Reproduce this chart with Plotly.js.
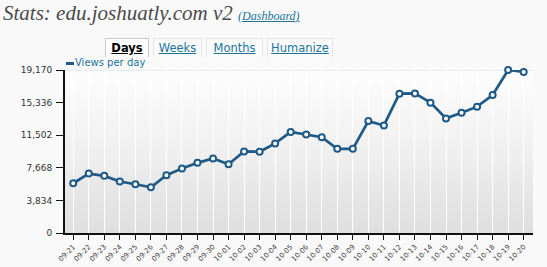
<!DOCTYPE html>
<html>
<head>
<meta charset="utf-8">
<script src="https://cdn.plot.ly/plotly-3.0.1.min.js"></script>
<style>
  html, body { margin:0; padding:0; width:547px; height:267px; overflow:hidden; background:#f9f9f9; }
  #title { position:absolute; left:3px; top:1px; font-family:"Liberation Serif", serif; font-style:italic; font-size:21px; color:#4a4a4a; white-space:nowrap; }
  #title a { font-family:"Liberation Serif", serif; font-size:12px; color:#21759b; text-decoration:underline; }
  .tab { position:absolute; top:38px; height:19px; line-height:18px; font-family:"DejaVu Sans", sans-serif; font-size:11.5px; color:#21759b; text-decoration:underline; border:1px solid #e4e4e4; border-bottom:none; background:#fbfbfb; text-align:center; box-sizing:border-box; }
  .tab.active { color:#000; font-weight:bold; border-color:#c8c8c8; background:#fff; }
  #bg { position:absolute; left:65px; top:70px; width:468px; height:163px; background:linear-gradient(to bottom, #fdfdfd 0%, #f1f1f1 45%, #dedede 100%); border-top:1px solid #e6e9ee; box-sizing:border-box; }
  #legend { position:absolute; left:66px; top:57px; font-family:"DejaVu Sans", sans-serif; font-size:10px; color:#21759b; white-space:nowrap; }
  #legend span.dash { display:inline-block; width:8px; height:3px; background:#1f5a87; vertical-align:middle; margin-right:1px; }
  #chart { position:absolute; left:0; top:0; width:547px; height:267px; }
</style>
</head>
<body>
<div id="title">Stats: edu.joshuatly.com v2 <a>(Dashboard)</a></div>
<div class="tab active" style="left:105px;width:44px;">Days</div>
<div class="tab" style="left:153px;width:49px;">Weeks</div>
<div class="tab" style="left:206px;width:57px;">Months</div>
<div class="tab" style="left:267px;width:66px;">Humanize</div>
<div id="bg"></div>
<div id="chart"></div>
<div id="legend"><span class="dash"></span>Views per day</div>
<script>
const dates = ["09-21","09-22","09-23","09-24","09-25","09-26","09-27","09-28","09-29","09-30",
               "10-01","10-02","10-03","10-04","10-05","10-06","10-07","10-08","10-09","10-10",
               "10-11","10-12","10-13","10-14","10-15","10-16","10-17","10-18","10-19","10-20"];
const views = [5850, 6990, 6720, 6050, 5730, 5380, 6790, 7580, 8250, 8760,
               8090, 9590, 9550, 10530, 11880, 11590, 11270, 9900, 9900, 13160,
               12650, 16390, 16420, 15330, 13480, 14150, 14860, 16220, 19170, 18940];
const seriesName = "Views per day";
const yTicks = [0, 3834, 7668, 11502, 15336, 19170];
const yTickText = ["0", "3,834", "7,668", "11,502", "15,336", "19,170"];

const lineColor = "#1f5a87";
const trace = {
  x: dates, y: views, type: "scatter", mode: "lines+markers", name: seriesName,
  line: {color: lineColor, width: 2.7},
  marker: {symbol: "circle", size: 6, color: "#ffffff", line: {color: lineColor, width: 2}},
  showlegend: false, hoverinfo: "skip", cliponaxis: false
};
const layout = {
  width: 547, height: 267,
  margin: {l: 65, r: 14, t: 70, b: 34, pad: 0},
  paper_bgcolor: "rgba(0,0,0,0)", plot_bgcolor: "rgba(0,0,0,0)",
  font: {family: "DejaVu Sans, sans-serif", color: "#333"},
  xaxis: {
    type: "category", range: [-0.53, 29.6],
    showgrid: true, gridcolor: "rgba(255,255,255,0.95)", gridwidth: 1,
    showline: true, linecolor: "#111", linewidth: 2,
    ticks: "outside", ticklen: 5, tickcolor: "#111", tickwidth: 1,
    tickangle: -45, tickfont: {size: 7, color: "#444"}, zeroline: false
  },
  yaxis: {
    range: [0, 19170], tickvals: yTicks, ticktext: yTickText,
    showgrid: false, zeroline: false,
    showline: true, linecolor: "#111", linewidth: 2,
    ticks: "outside", ticklen: 7, tickcolor: "#111", tickwidth: 1,
    ticklabelstandoff: 2,
    tickfont: {size: 9, color: "#333"}
  }
};
Plotly.newPlot("chart", [trace], layout, {staticPlot: true, displayModeBar: false});
</script>
</body>
</html>
